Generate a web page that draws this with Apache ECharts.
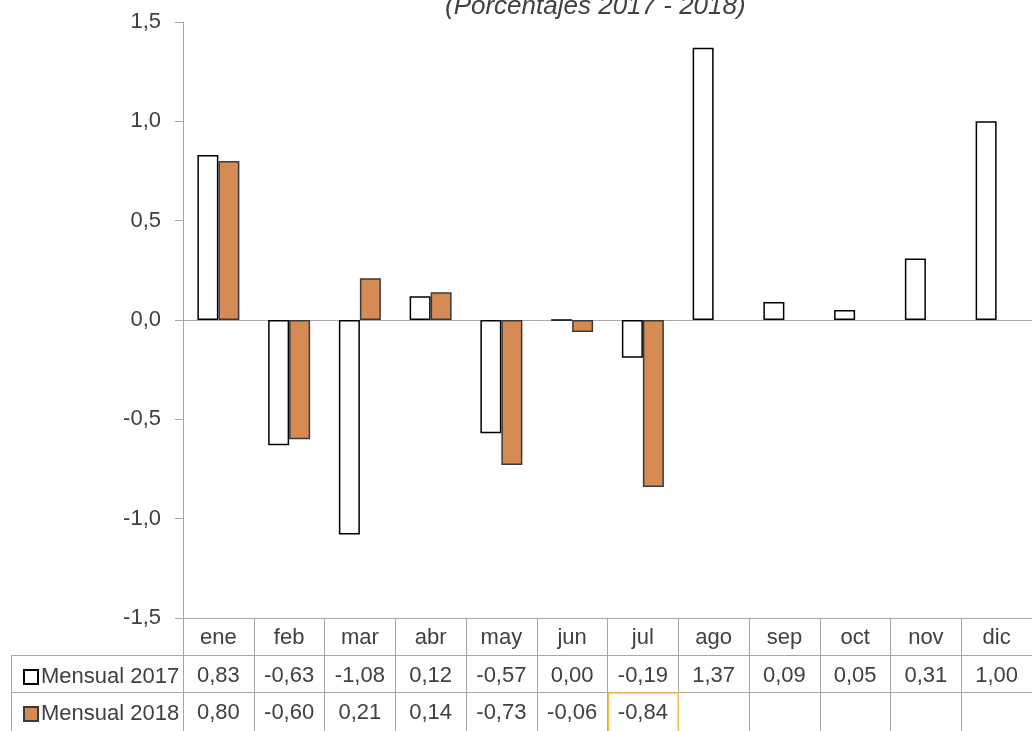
<!DOCTYPE html>
<html>
<head>
<meta charset="utf-8">
<script src="https://cdn.jsdelivr.net/npm/echarts@6/dist/echarts.min.js"></script>
<style>
html,body{margin:0;padding:0;background:#fff;}
#chart{width:1032px;height:731px;}
</style>
</head>
<body>
<div id="chart"></div>
<script>
var months = ['ene','feb','mar','abr','may','jun','jul','ago','sep','oct','nov','dic'];
var mensual2017 = [0.83, -0.63, -1.08, 0.12, -0.57, 0.00, -0.19, 1.37, 0.09, 0.05, 0.31, 1.00];
var mensual2018 = [0.80, -0.60, 0.21, 0.14, -0.73, -0.06, -0.84];
var yTicks = [-1.5, 1.5, 0.5];

var FONT = "'Liberation Sans Narrow', 'Liberation Sans', Arial, sans-serif";
var TXT = '#404040';
var LINE = '#a6a6a6';

function fmt(v){
  if (v === undefined || v === null) return '';
  return v.toFixed(2).replace('.', ',');
}
var row2017 = mensual2017.map(fmt);
var row2018 = months.map(function(m, i){ return fmt(mensual2018[i]); });

var myChart = echarts.init(document.getElementById('chart'));

function tableAxis(data, offset, len, margin){
  return {
    type: 'category',
    data: data,
    position: 'bottom',
    offset: offset,
    axisLine: { show: true, onZero: false, lineStyle: { color: LINE, width: 1 } },
    axisTick: { show: true, interval: 0, length: len, lineStyle: { color: LINE, width: 1 } },
    axisLabel: { show: true, interval: 0, margin: margin, color: TXT, fontSize: 22, fontFamily: FONT }
  };
}

function legendRow(name, top){
  return {
    orient: 'vertical',
    left: 18,
    top: top,
    itemWidth: 14,
    itemHeight: 14,
    itemGap: 0,
    icon: 'rect',
    data: [name],
    textStyle: { fontSize: 22, color: TXT, fontFamily: FONT, padding: [0, 0, 0, -2] }
  };
}

var option = {
  animation: false,
  title: {
    text: '(Porcentajes 2017 - 2018)',
    left: 440,
    top: -11,
    textStyle: { fontSize: 26, fontStyle: 'italic', fontWeight: 'normal', color: TXT, fontFamily: FONT }
  },
  legend: [legendRow('Mensual 2017', 661), legendRow('Mensual 2018', 698)],
  grid: { left: 183, right: 0, top: 22, bottom: 113 },
  xAxis: [
    {
      type: 'category',
      data: months,
      axisLine: { show: true, onZero: true, lineStyle: { color: '#9a9a9a', type: 'dotted', width: 1 } },
      axisTick: { show: false },
      axisLabel: { show: false }
    },
    tableAxis(months, 0, 37, 9),
    tableAxis(row2017, 37, 37, 10),
    tableAxis(row2018, 74, 45, 10)
  ],
  yAxis: {
    type: 'value',
    min: yTicks[0],
    max: yTicks[1],
    interval: yTicks[2],
    axisLine: { show: true, lineStyle: { color: LINE, width: 1 } },
    axisTick: { show: true, length: 8, lineStyle: { color: LINE } },
    axisLabel: {
      margin: 22,
      color: TXT,
      fontSize: 22,
      fontFamily: FONT,
      formatter: function(v){ return v.toFixed(1).replace('.', ','); }
    },
    splitLine: { show: false }
  },
  series: [
    {
      name: 'Mensual 2017',
      type: 'bar',
      data: mensual2017,
      barWidth: 21,
      barGap: '0%',
      itemStyle: { color: '#ffffff', borderColor: '#000000', borderWidth: 1.5 }
    },
    {
      name: 'Mensual 2018',
      type: 'bar',
      data: mensual2018,
      barWidth: 21,
      itemStyle: { color: '#d68b55', borderColor: '#3a3a3a', borderWidth: 1.5 }
    }
  ],
  graphic: [
    { type: 'line', shape: { x1: 11, y1: 655.5, x2: 183, y2: 655.5 }, style: { stroke: LINE, lineWidth: 1 } },
    { type: 'line', shape: { x1: 11, y1: 692.5, x2: 183, y2: 692.5 }, style: { stroke: LINE, lineWidth: 1 } },
    { type: 'line', shape: { x1: 11.5, y1: 655, x2: 11.5, y2: 731 }, style: { stroke: LINE, lineWidth: 1 } }
  ]
};
myChart.setOption(option);

// highlighted (selected) cell of the last 2018 value
var last = mensual2018.length - 1;
var xa = myChart.convertToPixel({ xAxisIndex: 1 }, months[last]);
var xb = myChart.convertToPixel({ xAxisIndex: 1 }, months[last + 1]);
var cw = xb - xa;
myChart.setOption({
  graphic: option.graphic.concat([{
    type: 'rect',
    z: 100,
    shape: { x: xa - cw / 2 + 1, y: 693, width: cw - 1, height: 40 },
    style: { fill: 'none', stroke: '#f2c14e', lineWidth: 1.5 }
  }])
});
</script>
</body>
</html>
